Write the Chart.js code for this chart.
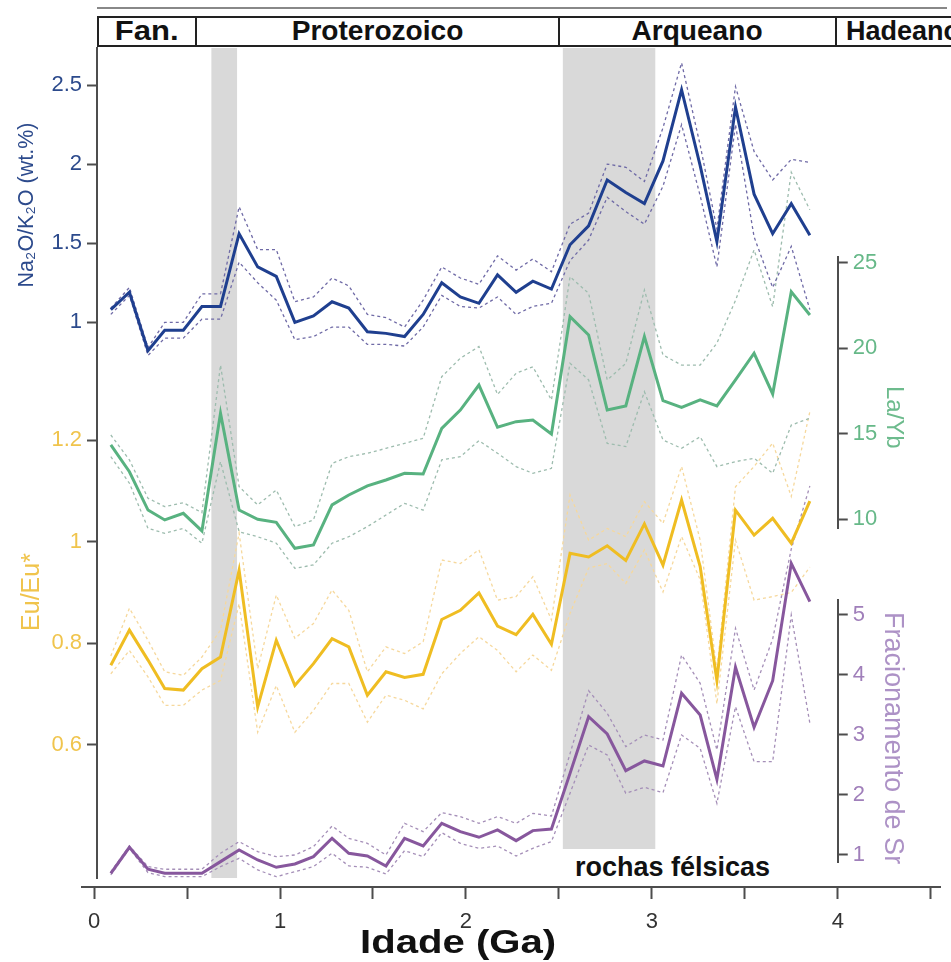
<!DOCTYPE html>
<html>
<head>
<meta charset="utf-8">
<title>Na2O/K2O, La/Yb, Eu/Eu* e Sr por idade</title>
<script src="https://cdn.jsdelivr.net/npm/chart.js@4.4.1/dist/chart.umd.min.js"></script>
<style>
  body { margin: 0; background: #fff; }
  #wrap { position: relative; width: 951px; height: 962px; overflow: hidden; font-family: "Liberation Sans", Arial, sans-serif; }
  #chart { position: absolute; left: 0; top: 0; }
  .topline { position: absolute; left: 97px; top: 7px; width: 850px; border-top: 2px solid #888; }
  .eon { position: absolute; top: 16px; height: 31px; box-sizing: border-box; border: 2px solid #222; background: #fff;
         font-weight: bold; font-size: 27px; line-height: 27px; text-align: center; color: #111; white-space: nowrap; }
  .note { position: absolute; font-weight: bold; color: #111; white-space: nowrap; }
  .vtitle { position: absolute; writing-mode: vertical-rl; white-space: nowrap; line-height: 1; }
</style>
</head>
<body>
<div id="wrap">
  <canvas id="chart" width="951" height="962"></canvas>
  <div class="topline"></div>
  <div class="eon" style="left:97px; width:100px;"><span style="display:inline-block; transform:scaleX(1.15);">Fan.</span></div>
  <div class="eon" style="left:195px; width:365px;"><span style="display:inline-block; transform:scaleX(1.04);">Proterozoico</span></div>
  <div class="eon" style="left:558px; width:279px;"><span style="display:inline-block; transform:scaleX(1.04);">Arqueano</span></div>
  <div class="eon" style="left:835px; width:140px; text-align:left; padding-left:9px;">Hadeano</div>
  <div class="note" style="left:562px; top:849px; width:240px; height:36px; background:#fff; font-size:27px; line-height:36px; padding-left:13px; box-sizing:border-box;">rochas félsicas</div>
  <div class="note" style="left:360px; top:922px; font-size:34px; transform:scaleX(1.18); transform-origin:left top;">Idade (Ga)</div>
  <div class="vtitle" style="left:883px; top:386px; font-size:24px; color:#6dbb8d;">La/Yb</div>
  <div class="vtitle" style="left:880px; top:612px; font-size:27px; color:#ad92c6;">Fracionamento de Sr</div>
</div>

<script>
// age of each point (Ga)
const ages = [0.09, 0.19, 0.29, 0.38, 0.48, 0.58, 0.68, 0.78, 0.88, 0.98,
              1.08, 1.18, 1.28, 1.37, 1.47, 1.57, 1.67, 1.77, 1.87, 1.97,
              2.07, 2.17, 2.27, 2.36, 2.46, 2.56, 2.66, 2.76, 2.86, 2.96,
              3.06, 3.16, 3.26, 3.35, 3.45, 3.55, 3.65, 3.75, 3.85];

// Na2O/K2O (wt.%)
const naMain  = [1.08, 1.19, 0.82, 0.95, 0.95, 1.10, 1.10, 1.56, 1.35, 1.29,
                 1.00, 1.04, 1.13, 1.09, 0.94, 0.93, 0.91, 1.05, 1.25, 1.16,
                 1.12, 1.30, 1.19, 1.26, 1.21, 1.49, 1.61, 1.90, 1.82, 1.75,
                 2.02, 2.47, 1.99, 1.51, 2.36, 1.81, 1.56, 1.75, 1.55];
const naUpper = [1.09, 1.22, 0.84, 1.00, 1.00, 1.18, 1.18, 1.73, 1.46, 1.46,
                 1.13, 1.16, 1.28, 1.23, 1.05, 1.03, 0.97, 1.14, 1.35, 1.28,
                 1.24, 1.42, 1.33, 1.40, 1.32, 1.62, 1.69, 2.00, 1.98, 1.89,
                 2.23, 2.64, 2.12, 1.59, 2.49, 2.08, 1.90, 2.03, 2.01];
const naLower = [1.05, 1.17, 0.79, 0.90, 0.90, 1.02, 1.02, 1.38, 1.25, 1.14,
                 0.89, 0.91, 0.97, 0.97, 0.86, 0.86, 0.85, 0.97, 1.17, 1.10,
                 1.09, 1.16, 1.05, 1.10, 1.12, 1.39, 1.52, 1.79, 1.70, 1.62,
                 1.86, 2.25, 1.80, 1.35, 2.25, 1.54, 1.22, 1.48, 1.08];

// La/Yb
const laMain  = [14.35, 12.78, 10.54, 9.96, 10.35, 9.32, 16.2, 10.54, 10.0, 9.82,
                 8.30, 8.50, 10.84, 11.42, 11.95, 12.30, 12.69, 12.65, 15.32, 16.39,
                 17.85, 15.38, 15.71, 15.81, 14.99, 21.85, 20.78, 16.39, 16.63, 20.68,
                 16.94, 16.55, 16.98, 16.63, 18.15, 19.71, 17.33, 23.31, 21.95];
const laUpper = [14.93, 13.47, 11.23, 10.74, 10.97, 10.39, 19.02, 11.91, 10.84, 11.71,
                 9.57, 9.96, 13.27, 13.66, 13.86, 14.15, 14.44, 14.74, 18.34, 19.42,
                 20.10, 17.3, 18.54, 18.92, 16.98, 24.19, 23.22, 18.15, 19.12, 23.41,
                 19.61, 19.02, 19.02, 20.3, 22.8, 25.76, 22.43, 30.3, 28.1];
const laLower = [13.66, 12.11, 9.47, 9.18, 9.47, 8.60, 13.37, 9.27, 8.98, 8.60,
                 7.13, 7.33, 8.60, 8.98, 9.57, 10.25, 10.93, 10.54, 13.47, 13.66,
                 14.6, 13.86, 13.08, 12.69, 12.98, 19.12, 18.15, 14.44, 14.25, 17.46,
                 14.64, 14.15, 14.83, 13.08, 13.37, 13.57, 12.69, 15.51, 15.91];

// Eu/Eu*
const euMain  = [0.757, 0.826, 0.767, 0.711, 0.708, 0.750, 0.773, 0.944, 0.675, 0.806,
                 0.717, 0.760, 0.809, 0.793, 0.698, 0.744, 0.733, 0.739, 0.847, 0.865,
                 0.899, 0.834, 0.817, 0.857, 0.798, 0.977, 0.970, 0.992, 0.963, 1.035,
                 0.954, 1.082, 0.951, 0.727, 1.062, 1.013, 1.046, 0.997, 1.080];
const euUpper = [0.775, 0.869, 0.806, 0.744, 0.737, 0.773, 0.826, 1.017, 0.75, 0.895,
                 0.81, 0.839, 0.905, 0.865, 0.744, 0.793, 0.78, 0.803, 0.964, 0.957,
                 0.984, 0.885, 0.892, 0.931, 0.846, 1.092, 1.003, 1.026, 1.01, 1.079,
                 1.036, 1.148, 1.003, 0.747, 1.108, 1.148, 1.194, 1.089, 1.256];
const euLower = [0.74, 0.786, 0.734, 0.678, 0.678, 0.708, 0.727, 0.878, 0.625, 0.717,
                 0.625, 0.668, 0.721, 0.721, 0.645, 0.698, 0.688, 0.671, 0.74, 0.78,
                 0.813, 0.786, 0.744, 0.777, 0.747, 0.859, 0.948, 0.957, 0.918, 0.984,
                 0.901, 1.01, 0.925, 0.681, 1.003, 0.885, 0.892, 0.90, 0.95];

// Fracionamento de Sr
const srMain  = [0.695, 1.128, 0.762, 0.695, 0.695, 0.695, 0.889, 1.083, 0.917, 0.795,
                 0.85, 0.972, 1.278, 1.028, 0.983, 0.817, 1.278, 1.15, 1.528, 1.389,
                 1.295, 1.417, 1.239, 1.406, 1.433, 2.36, 3.305, 3.017, 2.406, 2.567,
                 2.483, 3.695, 3.333, 2.261, 4.128, 3.128, 3.905, 5.861, 5.222];
const srUpper = [0.72, 1.15, 0.806, 0.762, 0.762, 0.762, 1.028, 1.222, 1.056, 0.972,
                 1.0, 1.139, 1.483, 1.278, 1.194, 1.0, 1.528, 1.389, 1.706, 1.639,
                 1.528, 1.64, 1.528, 1.694, 1.65, 2.69, 3.738, 3.361, 2.806, 3.0,
                 2.917, 4.333, 3.861, 2.75, 4.778, 3.75, 4.6, 6.1, 7.15];
const srLower = [0.667, 1.11, 0.706, 0.639, 0.639, 0.639, 0.806, 0.944, 0.75, 0.639,
                 0.72, 0.806, 1.028, 0.817, 0.795, 0.683, 1.072, 0.972, 1.372, 1.194,
                 1.111, 1.15, 0.983, 1.111, 1.222, 2.03, 2.833, 2.667, 2.028, 2.128,
                 2.039, 3.0, 2.778, 1.861, 3.472, 2.555, 2.555, 5.0, 3.195];

// shaded intervals (Ga)
const bandStart = [0.63, 2.52];
const bandEnd = [0.77, 3.02];

// tick values
const ageTicks = [0, 0.5, 1, 1.5, 2, 2.5, 3, 3.5, 4, 4.5];
const naTicks = [1, 1.5, 2, 2.5];
const euTicks = [0.6, 0.8, 1, 1.2];
const laTicks = [10, 15, 20, 25];
const srTicks = [1, 2, 3, 4, 5];

Chart.defaults.font.family = '"Liberation Sans", Arial, sans-serif';

const AXIS = '#4d4d4d';

function pts(vals) {
  return ages.map((a, i) => ({ x: a, y: vals[i] }));
}

function solid(vals, color, axis) {
  return { data: pts(vals), yAxisID: axis, borderColor: color, borderWidth: 3,
           pointRadius: 0, fill: false, clip: false, order: 1 };
}

function dashed(vals, color, axis) {
  return { data: pts(vals), yAxisID: axis, borderColor: color, borderWidth: 1.3,
           borderDash: [3, 3], pointRadius: 0, fill: false, clip: false, order: 2 };
}

function band(i) {
  return { data: [{ x: bandStart[i], y: 1 }, { x: bandEnd[i], y: 1 }], yAxisID: 'yBand',
           borderWidth: 0, pointRadius: 0, fill: 'origin', backgroundColor: '#d9d9d9', order: 3 };
}

function yAxis(position, min, max, ticks, color, width, title) {
  return {
    type: 'linear', position, min, max, bounds: 'data',
    afterBuildTicks: (s) => { s.ticks = ticks.map((v) => ({ value: v })); },
    afterFit: (s) => { s.width = width; },
    grid: { drawOnChartArea: false, tickLength: 10, tickColor: AXIS, tickWidth: 2 },
    border: { color: AXIS, width: 2 },
    ticks: { color, font: { size: 22 }, padding: 5, callback: (v) => String(v) },
    title: title || { display: false }
  };
}

// put the stacked / inner axes where the figure has them
const placeAxes = {
  id: 'placeAxes',
  afterLayout(chart) {
    const s = chart.scales;
    const box = (sc, left, right, top, bottom) => {
      sc.left = left; sc.right = right; sc.width = right - left;
      sc.top = top; sc.bottom = bottom; sc.height = bottom - top;
      sc.configure();
    };
    const area = chart.chartArea;
    box(s.x, 82, 940, area.bottom + 9, 962);
    box(s.yNa, 0, 97, area.top, 362);
    box(s.yEu, 0, 97, 306, area.bottom);
    const x4 = s.x.getPixelForValue(4);
    box(s.yLa, x4, 951, 257, 528);
    box(s.ySr, x4, 951, 600, 862);
  }
};

new Chart(document.getElementById('chart'), {
  type: 'line',
  data: {
    datasets: [
      band(0), band(1),
      dashed(naUpper, '#6f6aa6', 'yNa'), dashed(naLower, '#6f6aa6', 'yNa'), solid(naMain, '#1f3f8f', 'yNa'),
      dashed(laUpper, '#9dbcae', 'yLa'), dashed(laLower, '#9dbcae', 'yLa'), solid(laMain, '#58b280', 'yLa'),
      dashed(euUpper, '#f6d89c', 'yEu'), dashed(euLower, '#f6d89c', 'yEu'), solid(euMain, '#efbd22', 'yEu'),
      dashed(srUpper, '#a58fb8', 'ySr'), dashed(srLower, '#a58fb8', 'ySr'), solid(srMain, '#87579d', 'ySr')
    ]
  },
  options: {
    responsive: false,
    animation: false,
    layout: { padding: { top: 48, right: 11, left: 0, bottom: 0 } },
    plugins: { legend: { display: false }, tooltip: { enabled: false } },
    elements: { line: { tension: 0 } },
    scales: {
      x: {
        type: 'linear', min: -0.065, max: 4.55, bounds: 'data',
        afterBuildTicks: (s) => { s.ticks = ageTicks.map((v) => ({ value: v })); },
        afterFit: (s) => { s.height = 84; },
        grid: { drawOnChartArea: false, tickLength: 12, tickColor: AXIS, tickWidth: 2 },
        border: { color: AXIS, width: 2 },
        ticks: { color: '#333', font: { size: 22 }, padding: 10, autoSkip: false, maxRotation: 0,
                 callback: (v) => Number.isInteger(v) ? String(v) : '' }
      },
      yBand: { type: 'linear', min: 0, max: 1, display: false },
      yNa: yAxis('left', 0.749, 2.734, naTicks, '#2c4a8c', 97,
        { display: true, text: 'Na₂O/K₂O (wt.%)', color: '#2c4a8c', font: { size: 21.5 }, padding: { top: 14, bottom: 0 } }),
      yEu: yAxis('left', 0.3383, 1.4637, euTicks, '#f0c44c', 0,
        { display: true, text: 'Eu/Eu*', color: '#f0c44c', font: { size: 25 }, padding: { top: 17, bottom: 0 } }),
      yLa: yAxis('right', 9.49, 25.34, laTicks, '#66b888', 0),
      ySr: yAxis('right', 0.883, 5.25, srTicks, '#a07fba', 0)
    }
  },
  plugins: [placeAxes]
});
</script>
</body>
</html>
